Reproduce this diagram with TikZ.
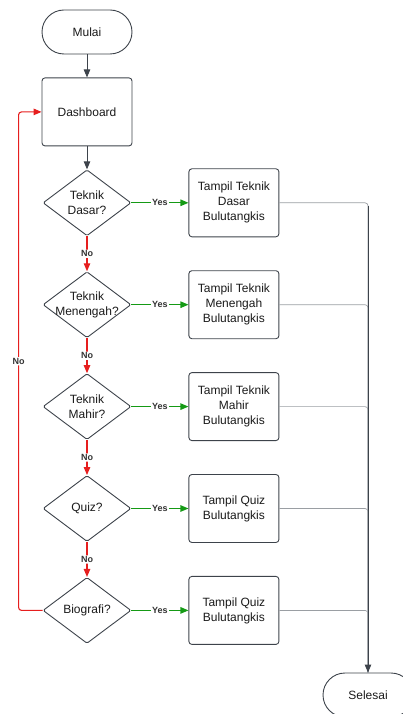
\documentclass[tikz,border=0pt]{standalone}
\usepackage{fontspec}
\setmainfont{Liberation Sans}
\usetikzlibrary{shapes.geometric,arrows.meta,positioning}

\definecolor{edgeclr}{HTML}{3D434B}
\definecolor{txtclr}{HTML}{1A1A1A}
\definecolor{yesclr}{HTML}{159A15}
\definecolor{noclr}{HTML}{E61E1E}
\definecolor{outclr}{HTML}{9A9EA3}
\definecolor{lblclr}{HTML}{333333}

\begin{document}
\begin{tikzpicture}[x=1pt,y=-1pt,
  every node/.style={font=\fontsize{12}{15}\selectfont, text=txtclr},
  term/.style={draw=edgeclr, line width=0.9pt, rectangle, rounded corners=22pt,
    minimum width=90pt, minimum height=44pt},
  proc/.style={draw=edgeclr, line width=0.9pt, rectangle, rounded corners=3pt,
    minimum width=90pt, minimum height=68pt, align=center, inner sep=0pt},
  dec/.style={draw=edgeclr, line width=0.9pt, diamond, rounded corners=1.5pt,
    minimum width=88pt, minimum height=66pt, inner sep=0pt},
  dectxt/.style={align=center, inner sep=0pt},
  flow/.style={draw=edgeclr, line width=0.9pt, -{Triangle[length=8pt,width=6.5pt]}},
  yesflow/.style={draw=yesclr, line width=1.1pt, -{Triangle[length=8pt,width=6.5pt]}},
  noflow/.style={draw=noclr, line width=1.1pt, rounded corners=3pt,
    -{Triangle[length=8pt,width=6.5pt]}},
  outline/.style={draw=outclr, line width=0.7pt, rounded corners=3pt},
  lbl/.style={font=\fontsize{9}{10}\selectfont\bfseries, text=lblclr,
    fill=white, inner sep=1pt}]

  \useasboundingbox (0,0) rectangle (402,714);

  % left column
  \node[term] (mulai) at (87,32) {Mulai};
  \node[proc] (dash) [below=23pt of mulai] {Dashboard};
  \node[dec, label={[dectxt]center:Teknik\\Dasar?}] (d1) [below=23pt of dash] {};
  \node[dec, label={[dectxt]center:Teknik\\Menengah?}] (d2) [below=35pt of d1] {};
  \node[dec, label={[dectxt]center:Teknik\\Mahir?}] (d3) [below=35pt of d2] {};
  \node[dec, label={[dectxt]center:Quiz?}] (d4) [below=35pt of d3] {};
  \node[dec, label={[dectxt]center:Biografi?}] (d5) [below=35pt of d4] {};

  % right column
  \node[proc] (b1) [right=57pt of d1] {Tampil Teknik\\Dasar\\Bulutangkis};
  \node[proc] (b2) [right=57pt of d2] {Tampil Teknik\\Menengah\\Bulutangkis};
  \node[proc] (b3) [right=57pt of d3] {Tampil Teknik\\Mahir\\Bulutangkis};
  \node[proc] (b4) [right=57pt of d4] {Tampil Quiz\\Bulutangkis};
  \node[proc] (b5) [right=57pt of d5] {Tampil Quiz\\Bulutangkis};

  \node[term] (selesai) at (368,695) {Selesai};

  \draw[flow] (mulai) -- (dash);
  \draw[flow] (dash) -- (d1);

  \draw[noflow] (d1.south) -- node[lbl] {No} (d2.north);
  \draw[noflow] (d2.south) -- node[lbl] {No} (d3.north);
  \draw[noflow] (d3.south) -- node[lbl] {No} (d4.north);
  \draw[noflow] (d4.south) -- node[lbl] {No} (d5.north);
  \draw[noflow] (d5.west) -- ++(-24,0) |- node[lbl, pos=0.25] {No} (dash.west);

  \draw[yesflow] (d1.east) -- node[lbl] {Yes} (b1.west);
  \draw[yesflow] (d2.east) -- node[lbl] {Yes} (b2.west);
  \draw[yesflow] (d3.east) -- node[lbl] {Yes} (b3.west);
  \draw[yesflow] (d4.east) -- node[lbl] {Yes} (b4.west);
  \draw[yesflow] (d5.east) -- node[lbl] {Yes} (b5.west);

  % joins to the end
  \draw[outline] (b1.east) -| (selesai.north);
  \draw[outline] (b2.east) -| (selesai.north);
  \draw[outline] (b3.east) -| (selesai.north);
  \draw[outline] (b4.east) -| (selesai.north);
  \draw[outline] (b5.east) -| (selesai.north);
  \draw[flow] ([yshift=-3pt]b1.east -| selesai.north) -- (selesai.north);
\end{tikzpicture}
\end{document}
